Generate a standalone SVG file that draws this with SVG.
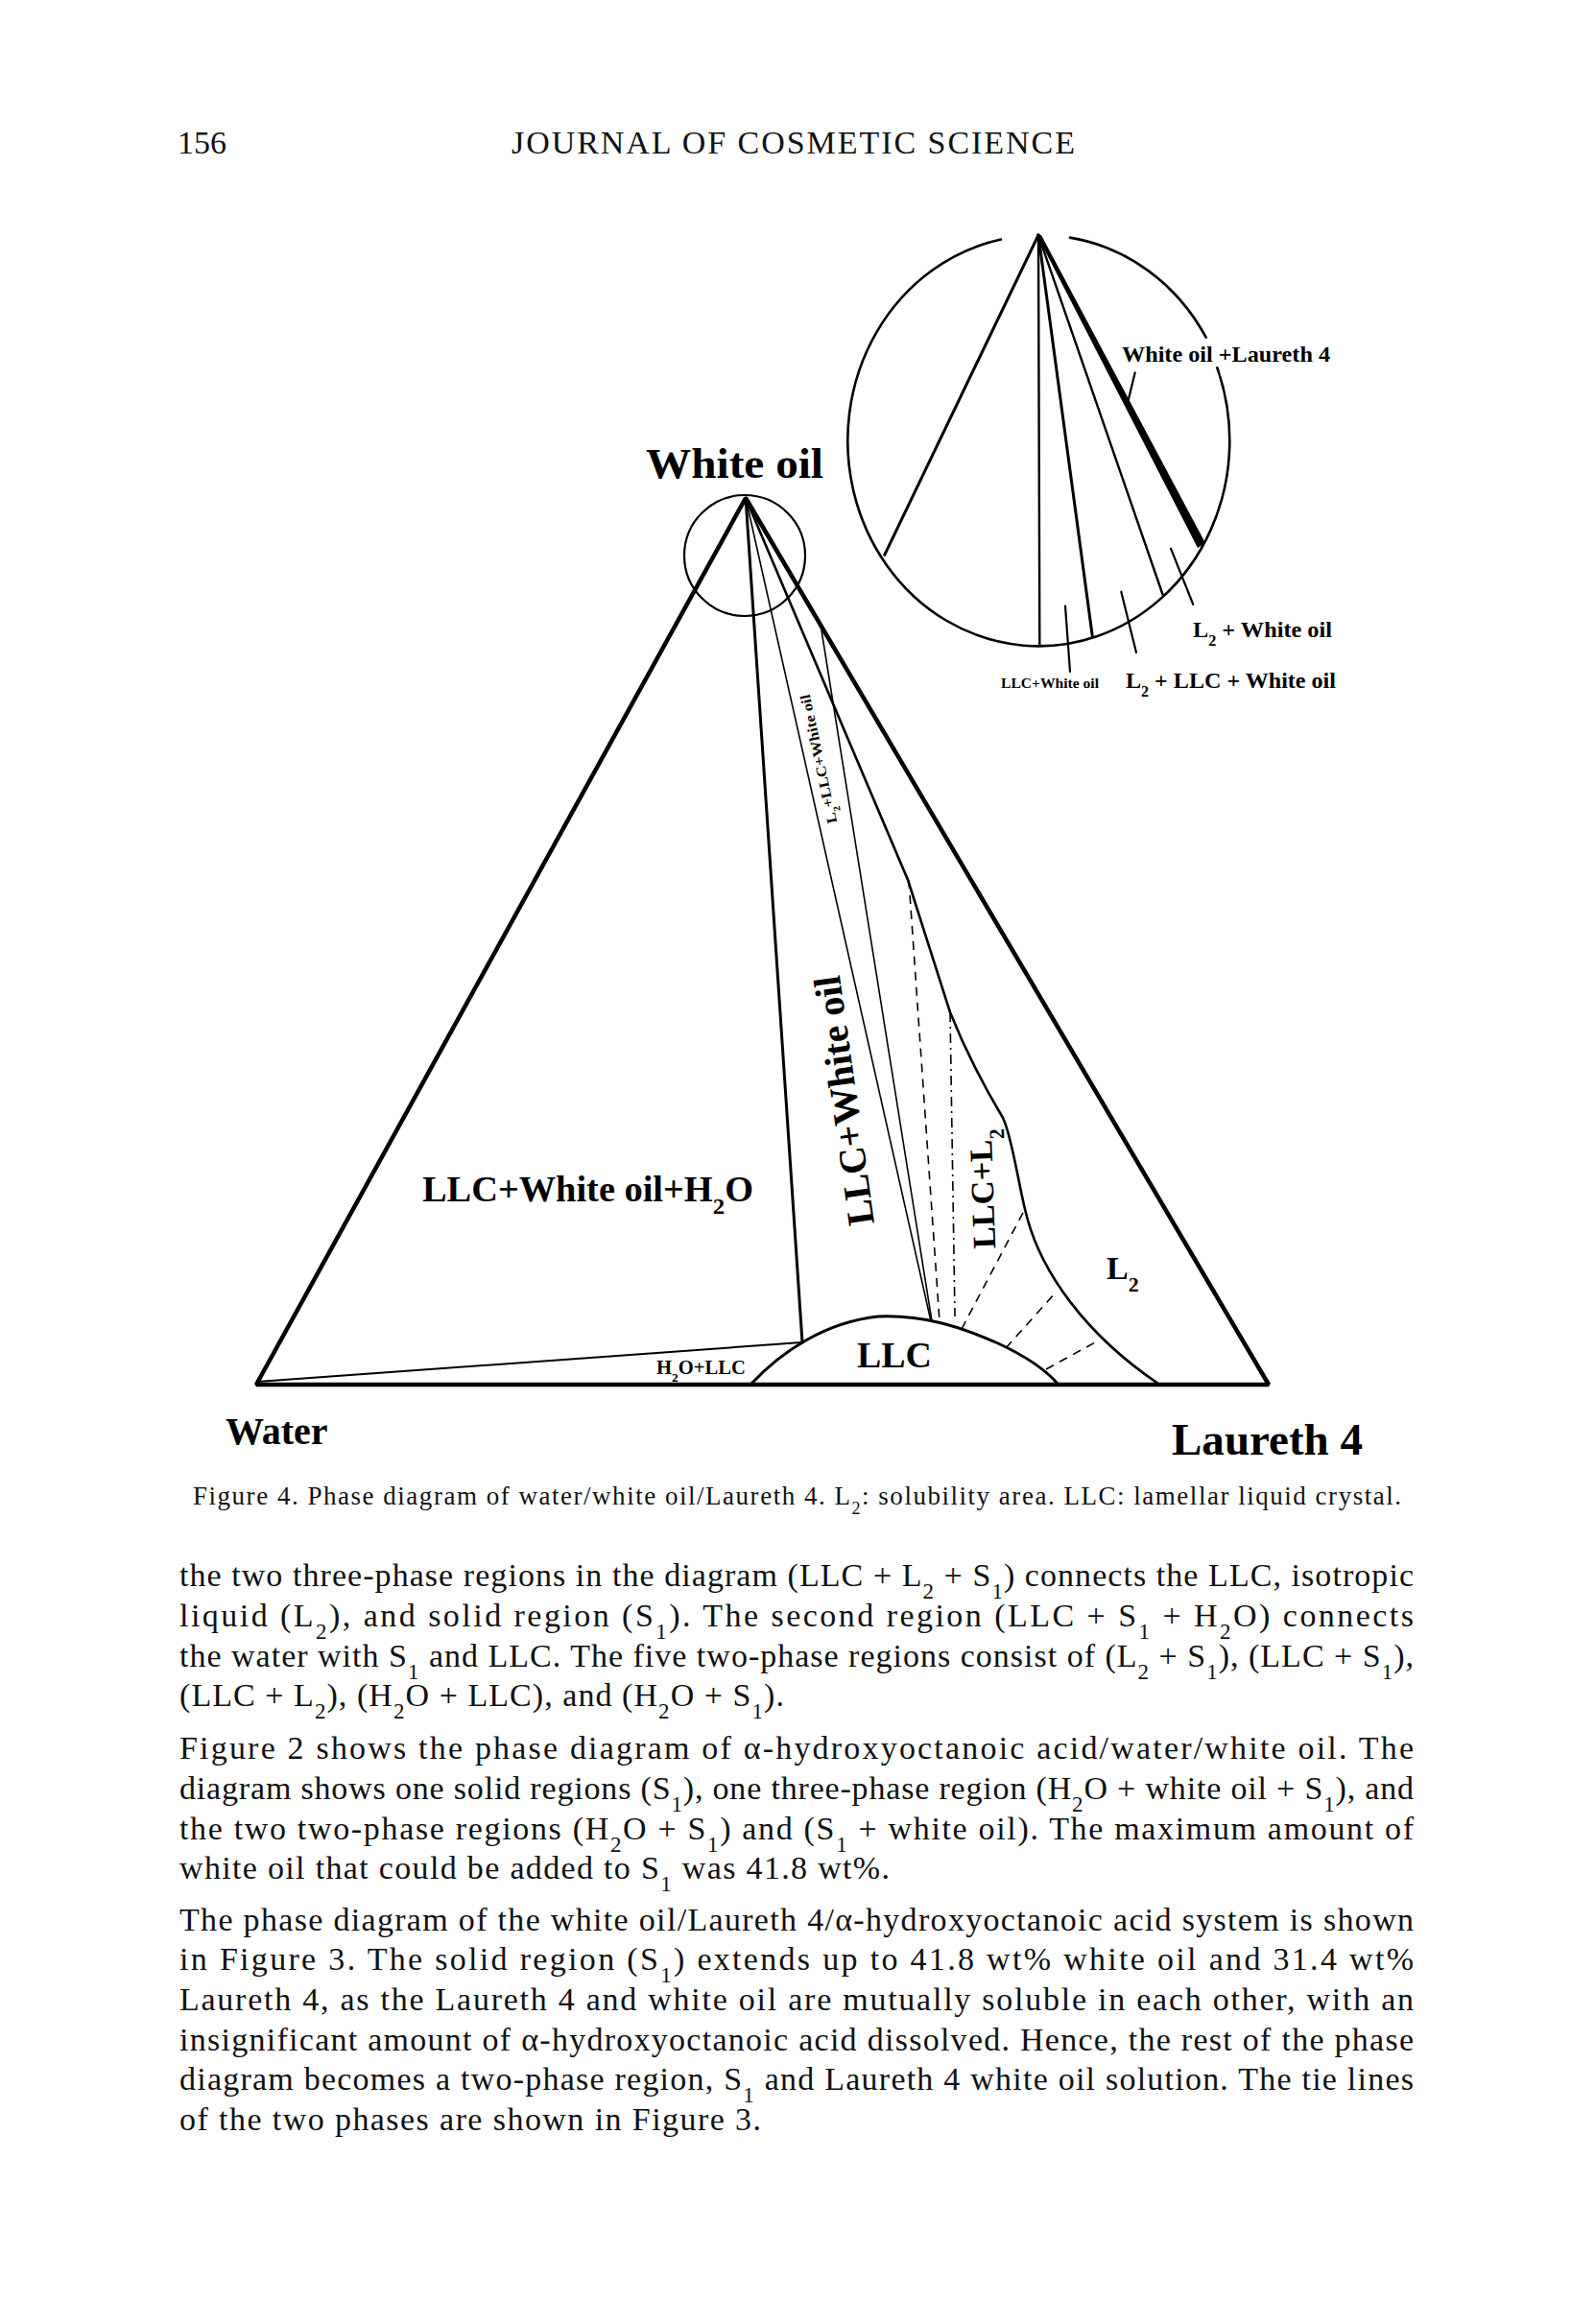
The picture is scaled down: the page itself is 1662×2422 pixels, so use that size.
<svg xmlns="http://www.w3.org/2000/svg" width="1662" height="2422" viewBox="0 0 1662 2422">
<style>
.lab{font-family:"Liberation Serif","Times New Roman",serif;font-weight:bold;fill:#000}
.body{font-family:"Liberation Serif","Times New Roman",serif;font-size:34px;fill:#111}
.cap{font-family:"Liberation Serif","Times New Roman",serif;font-size:27px;fill:#111}
.ln{fill:none;stroke:#000;stroke-linecap:round}
.dash{fill:none;stroke:#000;stroke-width:1.6;stroke-dasharray:9 7}
.dashdot{fill:none;stroke:#000;stroke-width:1.6;stroke-dasharray:10 5 2 5}
</style>
<rect width="1662" height="2422" fill="#fff"/>

<g id="header">
<text class="body" x="185" y="160" font-size="33">156</text>
<text class="body" x="533" y="160" font-size="35" textLength="587">JOURNAL OF COSMETIC SCIENCE</text>
</g>

<g id="connectors">
<path class="ln" d="M777,519 L267,1443 L1322,1443 Z" stroke-width="4.5" stroke-linejoin="bevel"/>
<circle class="ln" cx="776" cy="579" r="63" stroke-width="2.2"/>
<path class="ln" d="M777,519 L836,1399" stroke-width="3"/>
<path class="ln" d="M777,519 L970,1377" stroke-width="1.6"/>
<path class="ln" d="M856,657 L971,1377" stroke-width="1.6"/>
<path class="ln" d="M777,519 L946,917 L990,1055 C1010,1105 1030,1140 1045,1165 C1055,1185 1062,1240 1070,1268 C1085,1325 1130,1390 1207,1442" stroke-width="2.6"/>
<path class="dash" d="M947,917 L979,1377"/>
<path class="dashdot" d="M990,1055 L995,1372"/>
<path class="dash" d="M1002,1385 L1067,1262"/>
<path class="dash" d="M1048,1405 L1100,1347"/>
<path class="dash" d="M1090,1427 L1143,1398"/>
<path class="ln" d="M268,1440 L835,1399" stroke-width="2"/>
<path class="ln" d="M783,1442 C815,1408 860,1378 915,1372 C960,1370 1000,1382 1040,1400 C1070,1414 1090,1428 1102,1442" stroke-width="3"/>

<path class="ln" d="M1115,247.6 A199,214 0 0 1 1256.7,351.7 M1268.3,383.3 A199,214 0 1 1 1043,249.6" stroke-width="2.6"/>
<path class="ln" d="M1082,245 L921.7,578.3" stroke-width="3"/>
<path class="ln" d="M1082,245 L1083.3,671.7" stroke-width="2.4"/>
<path class="ln" d="M1082,245 L1138.3,663.3" stroke-width="3"/>
<path class="ln" d="M1082,245 L1211.7,620" stroke-width="2.4"/>
<polygon points="1080,244 1085,245 1256,566 1248,571" fill="#000"/>
<path class="ln" d="M1182.7,388.3 L1175,420" stroke-width="2.2"/>
<path class="ln" d="M1220,571.7 L1243.3,630" stroke-width="2.2"/>
<path class="ln" d="M1168.3,616.7 L1184,680" stroke-width="2.2"/>
<path class="ln" d="M1110,631.7 L1115,700" stroke-width="2.2"/>
</g>

<g id="node-white-oil"><text class="lab" x="673" y="498" font-size="45" textLength="185" lengthAdjust="spacingAndGlyphs">White oil</text></g>
<g id="node-water"><text class="lab" x="235" y="1505" font-size="40">Water</text></g>
<g id="node-laureth4"><text class="lab" x="1221" y="1516" font-size="46" textLength="199" lengthAdjust="spacingAndGlyphs">Laureth 4</text></g>

<g id="label-wo-laureth"><text class="lab" x="1169" y="377" font-size="24" textLength="217" lengthAdjust="spacingAndGlyphs">White oil +Laureth 4</text></g>
<g id="label-l2-wo"><text class="lab" x="1243" y="664" font-size="24" textLength="145" lengthAdjust="spacingAndGlyphs">L<tspan baseline-shift="sub" font-size="16">2</tspan> + White oil</text></g>
<g id="label-l2-llc-wo"><text class="lab" x="1173" y="717" font-size="24" textLength="219" lengthAdjust="spacingAndGlyphs">L<tspan baseline-shift="sub" font-size="16">2</tspan> + LLC + White oil</text></g>
<g id="label-llc-wo-small"><text class="lab" x="1043" y="717" font-size="15" textLength="102" lengthAdjust="spacingAndGlyphs">LLC+White oil</text></g>

<g id="region-llc-wo-h2o"><text class="lab" x="440" y="1252" font-size="37" textLength="345" lengthAdjust="spacingAndGlyphs">LLC+White oil+H<tspan baseline-shift="sub" font-size="24">2</tspan>O</text></g>
<g id="region-h2o-llc"><text class="lab" x="684" y="1432" font-size="20" textLength="93" lengthAdjust="spacingAndGlyphs">H<tspan baseline-shift="sub" font-size="13">2</tspan>O+LLC</text></g>
<g id="region-llc"><text class="lab" x="893" y="1425" font-size="38" textLength="78" lengthAdjust="spacingAndGlyphs">LLC</text></g>
<g id="region-l2"><text class="lab" x="1153" y="1333" font-size="34">L<tspan baseline-shift="sub" font-size="22">2</tspan></text></g>
<g id="region-l2-llc-wo" transform="translate(853,791) rotate(-102)"><text class="lab" x="0" y="5" font-size="15" text-anchor="middle" textLength="137" lengthAdjust="spacingAndGlyphs">L<tspan baseline-shift="sub" font-size="10">2</tspan>+LLC+White oil</text></g>
<g id="region-llc-wo" transform="translate(880,1147) rotate(-98)"><text class="lab" x="0" y="13" font-size="40" text-anchor="middle" textLength="262" lengthAdjust="spacingAndGlyphs">LLC+White oil</text></g>
<g id="region-llc-l2" transform="translate(1024,1239) rotate(-92)"><text class="lab" x="0" y="11" font-size="34" text-anchor="middle" textLength="125" lengthAdjust="spacingAndGlyphs">LLC+L<tspan baseline-shift="sub" font-size="22">2</tspan></text></g>

<g id="caption">
<text class="cap" x="201" y="1568" textLength="1259">Figure 4.  Phase diagram of water/white oil/Laureth 4. L<tspan baseline-shift="sub" font-size="18">2</tspan>: solubility area. LLC: lamellar liquid crystal.</text>
</g>

<g id="body-text">
<text class="body" x="187" y="1653" textLength="1286">the two three-phase regions in the diagram (LLC + L<tspan baseline-shift="sub" font-size="23">2</tspan> + S<tspan baseline-shift="sub" font-size="23">1</tspan>) connects the LLC, isotropic</text>
<text class="body" x="187" y="1695" textLength="1286">liquid (L<tspan baseline-shift="sub" font-size="23">2</tspan>), and solid region (S<tspan baseline-shift="sub" font-size="23">1</tspan>). The second region (LLC + S<tspan baseline-shift="sub" font-size="23">1</tspan> + H<tspan baseline-shift="sub" font-size="23">2</tspan>O) connects</text>
<text class="body" x="187" y="1737" textLength="1286">the water with S<tspan baseline-shift="sub" font-size="23">1</tspan> and LLC. The five two-phase regions consist of (L<tspan baseline-shift="sub" font-size="23">2</tspan> + S<tspan baseline-shift="sub" font-size="23">1</tspan>), (LLC + S<tspan baseline-shift="sub" font-size="23">1</tspan>),</text>
<text class="body" x="187" y="1778" textLength="630">(LLC + L<tspan baseline-shift="sub" font-size="23">2</tspan>), (H<tspan baseline-shift="sub" font-size="23">2</tspan>O + LLC), and (H<tspan baseline-shift="sub" font-size="23">2</tspan>O + S<tspan baseline-shift="sub" font-size="23">1</tspan>).</text>

<text class="body" x="187" y="1833" textLength="1286">Figure 2 shows the phase diagram of α-hydroxyoctanoic acid/water/white oil. The</text>
<text class="body" x="187" y="1875" textLength="1286">diagram shows one solid regions (S<tspan baseline-shift="sub" font-size="23">1</tspan>), one three-phase region (H<tspan baseline-shift="sub" font-size="23">2</tspan>O + white oil + S<tspan baseline-shift="sub" font-size="23">1</tspan>), and</text>
<text class="body" x="187" y="1917" textLength="1286">the two two-phase regions (H<tspan baseline-shift="sub" font-size="23">2</tspan>O + S<tspan baseline-shift="sub" font-size="23">1</tspan>) and (S<tspan baseline-shift="sub" font-size="23">1</tspan> + white oil). The maximum amount of</text>
<text class="body" x="187" y="1958" textLength="740">white oil that could be added to S<tspan baseline-shift="sub" font-size="23">1</tspan> was 41.8 wt%.</text>

<text class="body" x="187" y="2012" textLength="1286">The phase diagram of the white oil/Laureth 4/α-hydroxyoctanoic acid system is shown</text>
<text class="body" x="187" y="2053" textLength="1286">in Figure 3. The solid region (S<tspan baseline-shift="sub" font-size="23">1</tspan>) extends up to 41.8 wt% white oil and 31.4 wt%</text>
<text class="body" x="187" y="2095" textLength="1286">Laureth 4, as the Laureth 4 and white oil are mutually soluble in each other, with an</text>
<text class="body" x="187" y="2137" textLength="1286">insignificant amount of α-hydroxyoctanoic acid dissolved. Hence, the rest of the phase</text>
<text class="body" x="187" y="2178" textLength="1286">diagram becomes a two-phase region, S<tspan baseline-shift="sub" font-size="23">1</tspan> and Laureth 4 white oil solution. The tie lines</text>
<text class="body" x="187" y="2220" textLength="606">of the two phases are shown in Figure 3.</text>
</g>
</svg>
